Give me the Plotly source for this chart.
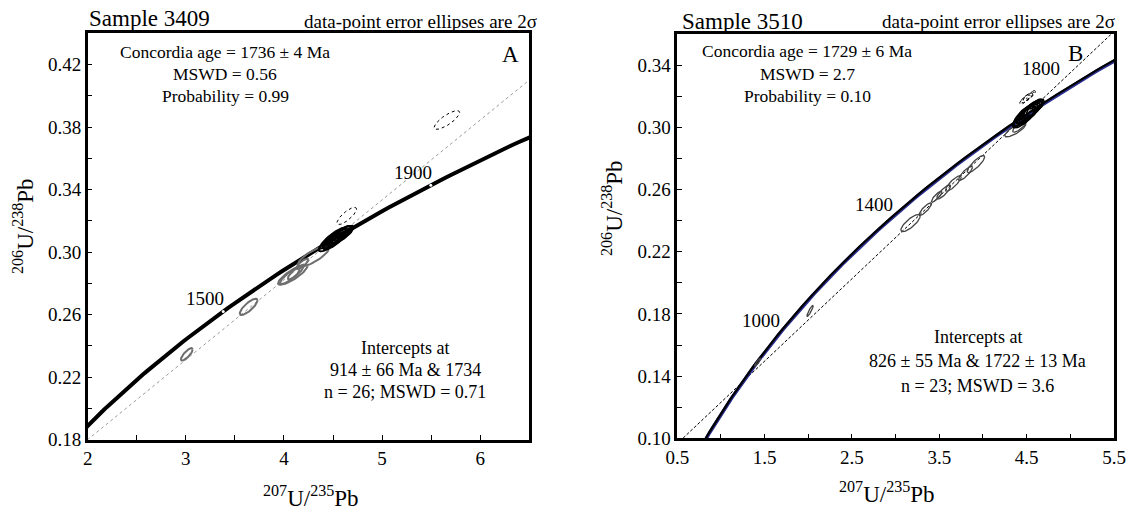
import numpy as np
import plotly.graph_objects as go

# ---------------- data ----------------
# decay constants (per year) for the concordia curve
LAMBDA_238 = 1.55125e-10
LAMBDA_235 = 9.8485e-10
CONCORDIA_AGES_MA = np.arange(500, 2301, 10)

# Sample 3409 (panel A): ellipse centre x, centre y, 2-sigma half widths, error correlation
a_conc_x = [4.47, 4.50, 4.52, 4.55, 4.58, 4.53, 4.49, 4.56, 4.61, 4.51, 4.54, 4.46, 4.59, 4.52]
a_conc_y = [0.3060, 0.3075, 0.3085, 0.3100, 0.3115, 0.3095, 0.3080, 0.3105, 0.3120, 0.3070, 0.3090, 0.3055, 0.3110, 0.3100]
a_conc_ex = [0.12, 0.11, 0.12, 0.13, 0.11, 0.10, 0.12, 0.12, 0.10, 0.11, 0.13, 0.10, 0.12, 0.11]
a_conc_ey = [0.0058, 0.0055, 0.0060, 0.0062, 0.0055, 0.0052, 0.0058, 0.0060, 0.0050, 0.0055, 0.0060, 0.0050, 0.0058, 0.0055]
a_conc_rho = [0.8] * 14

a_disc_x = [4.30, 4.19, 4.09, 4.06, 4.12, 3.64, 3.01]
a_disc_y = [0.2972, 0.2925, 0.2855, 0.2845, 0.2870, 0.2649, 0.2345]
a_disc_ex = [0.16, 0.06, 0.15, 0.10, 0.08, 0.09, 0.06]
a_disc_ey = [0.0066, 0.0032, 0.0065, 0.0050, 0.0045, 0.0052, 0.0040]
a_disc_rho = [0.8, 0.8, 0.85, 0.85, 0.85, 0.8, 0.8]

a_rej_x = [4.64, 5.66]
a_rej_y = [0.3231, 0.3845]
a_rej_ex = [0.10, 0.13]
a_rej_ey = [0.0055, 0.0060]
a_rej_rho = [0.8, 0.8]

a_intercepts_ma = [914, 1734]
a_age_labels = [1500, 1900]

# Sample 3510 (panel B)
b_conc_x = [4.46, 4.49, 4.52, 4.55, 4.58, 4.50, 4.47, 4.54, 4.60, 4.51, 4.56, 4.48, 4.53, 4.57]
b_conc_y = [0.3060, 0.3080, 0.3095, 0.3110, 0.3125, 0.3090, 0.3070, 0.3105, 0.3130, 0.3085, 0.3115, 0.3075, 0.3100, 0.3120]
b_conc_ex = [0.12, 0.11, 0.13, 0.12, 0.11, 0.13, 0.12, 0.11, 0.10, 0.12, 0.11, 0.13, 0.12, 0.11]
b_conc_ey = [0.0062, 0.0058, 0.0065, 0.0062, 0.0058, 0.0065, 0.0062, 0.0058, 0.0052, 0.0062, 0.0058, 0.0065, 0.0062, 0.0058]
b_conc_rho = [0.75] * 14

b_rej_x = [4.48, 4.52, 4.55, 4.50]
b_rej_y = [0.3180, 0.3200, 0.3210, 0.3190]
b_rej_ex = [0.06, 0.06, 0.05, 0.07]
b_rej_ey = [0.0030, 0.0030, 0.0028, 0.0032]
b_rej_rho = [0.8] * 4

b_disc_x = [4.37, 4.42, 3.92, 3.80, 3.66, 3.55, 3.47, 3.34, 3.17, 2.02, 1.42]
b_disc_y = [0.2985, 0.3010, 0.2765, 0.2705, 0.2640, 0.2585, 0.2555, 0.2475, 0.2385, 0.1820, 0.1490]
b_disc_ex = [0.12, 0.08, 0.10, 0.08, 0.09, 0.08, 0.06, 0.07, 0.11, 0.035, 0.035]
b_disc_ey = [0.0045, 0.0040, 0.0055, 0.0045, 0.0050, 0.0045, 0.0035, 0.0040, 0.0055, 0.0035, 0.0025]
b_disc_rho = [0.8, 0.8, 0.85, 0.85, 0.85, 0.85, 0.85, 0.85, 0.8, 0.9, 0.9]

b_intercepts_ma = [826, 1722]
b_age_labels = [1000, 1400, 1800]

FONT = "Liberation Serif, Times New Roman, serif"


def concordia(age_ma):
    t = np.asarray(age_ma, dtype=float) * 1e6
    return np.exp(LAMBDA_235 * t) - 1, np.exp(LAMBDA_238 * t) - 1


def ellipse(cx, cy, ex, ey, rho, n=60):
    t = np.linspace(0, 2 * np.pi, n)
    x = cx + ex * np.cos(t)
    y = cy + ey * (rho * np.cos(t) + np.sqrt(1 - rho ** 2) * np.sin(t))
    return x, y


def ellipse_trace(xs, ys, exs, eys, rhos, color, width, dash, xa, ya):
    px_, py_ = [], []
    for cx, cy, ex, ey, r in zip(xs, ys, exs, eys, rhos):
        x, y = ellipse(cx, cy, ex, ey, r)
        px_ += list(x) + [None]
        py_ += list(y) + [None]
    return go.Scatter(x=px_, y=py_, mode="lines", xaxis=xa, yaxis=ya,
                      line=dict(color=color, width=width, dash=dash),
                      hoverinfo="skip", showlegend=False)


def discordia(ages, xr):
    (x1, x2), (y1, y2) = concordia(ages)
    slope = (y2 - y1) / (x2 - x1)
    xs = np.array(xr)
    return xs, y1 + slope * (xs - x1)


fig = go.Figure()
cx_all, cy_all = concordia(CONCORDIA_AGES_MA)

# ---- panel A ----
dx, dy = discordia(a_intercepts_ma, [1.9, 6.6])
fig.add_trace(go.Scatter(x=dx, y=dy, mode="lines", xaxis="x", yaxis="y",
                         line=dict(color="#9a9a9a", width=1, dash="dot"),
                         hoverinfo="skip", showlegend=False))
fig.add_trace(go.Scatter(x=cx_all, y=cy_all, mode="lines", xaxis="x", yaxis="y",
                         line=dict(color="black", width=4),
                         hoverinfo="skip", showlegend=False))
fig.add_trace(ellipse_trace(a_disc_x, a_disc_y, a_disc_ex, a_disc_ey, a_disc_rho,
                            "#6e6e6e", 2, "solid", "x", "y"))
fig.add_trace(ellipse_trace(a_conc_x, a_conc_y, a_conc_ex, a_conc_ey, a_conc_rho,
                            "black", 1.3, "solid", "x", "y"))
fig.add_trace(ellipse_trace(a_rej_x, a_rej_y, a_rej_ex, a_rej_ey, a_rej_rho,
                            "black", 1, "dot", "x", "y"))
lx, ly = concordia(a_age_labels)
fig.add_trace(go.Scatter(x=lx, y=ly, mode="markers", xaxis="x", yaxis="y",
                         marker=dict(color="white", size=3),
                         hoverinfo="skip", showlegend=False))

# ---- panel B ----
dx, dy = discordia(b_intercepts_ma, [0.4, 5.6])
fig.add_trace(go.Scatter(x=dx, y=dy, mode="lines", xaxis="x2", yaxis="y2",
                         line=dict(color="black", width=1, dash="3px,2px"),
                         hoverinfo="skip", showlegend=False))
fig.add_trace(go.Scatter(x=cx_all, y=cy_all, mode="lines", xaxis="x2", yaxis="y2",
                         line=dict(color="#2b2f8f", width=3.5),
                         hoverinfo="skip", showlegend=False))
fig.add_trace(go.Scatter(x=cx_all, y=cy_all + 0.0006, mode="lines", xaxis="x2", yaxis="y2",
                         line=dict(color="black", width=2.2),
                         hoverinfo="skip", showlegend=False))
fig.add_trace(ellipse_trace(b_disc_x, b_disc_y, b_disc_ex, b_disc_ey, b_disc_rho,
                            "#444444", 1.3, "solid", "x2", "y2"))
fig.add_trace(ellipse_trace(b_conc_x, b_conc_y, b_conc_ex, b_conc_ey, b_conc_rho,
                            "black", 1.5, "solid", "x2", "y2"))
fig.add_trace(ellipse_trace(b_rej_x, b_rej_y, b_rej_ex, b_rej_ey, b_rej_rho,
                            "black", 1, "dot", "x2", "y2"))
lx2, ly2 = concordia(b_age_labels)

W, H = 1130, 513


def px(x):
    return x / W


def py(y):
    return 1 - y / H


axis_common = dict(showline=True, linewidth=2.5, linecolor="black", mirror=True,
                   ticks="inside", ticklen=5, tickwidth=1, tickcolor="black",
                   showgrid=False, zeroline=False, automargin=False,
                   tickfont=dict(family=FONT, size=19, color="black"))

annotations = []


def txt(x, y, text, size, xanchor="center", yanchor="middle", **kw):
    annotations.append(dict(x=px(x), y=py(y), xref="paper", yref="paper", text=text,
                            showarrow=False, xanchor=xanchor, yanchor=yanchor,
                            font=dict(family=FONT, size=size, color="black"), **kw))


# panel A texts
txt(87, 19, "Sample 3409", 23, xanchor="left")
txt(539, 21, "data-point error ellipses are 2σ", 19, xanchor="right")
txt(225, 52, "Concordia age = 1736 ± 4 Ma", 17.5)
txt(225, 74, "MSWD = 0.56", 17.5)
txt(225, 96, "Probability = 0.99", 17.5)
txt(510, 55, "A", 23)
txt(405, 348, "Intercepts at", 18)
txt(405, 370, "914 ± 66 Ma & 1734", 18)
txt(405, 392, "n = 26; MSWD = 0.71", 18)
txt(23, 226, "<sup>206</sup>U/<sup>238</sup>Pb", 23, textangle=-90)
txt(311, 496, "<sup>207</sup>U/<sup>235</sup>Pb", 23)

# panel B texts
txt(680, 21, "Sample 3510", 23, xanchor="left")
txt(1117, 21, "data-point error ellipses are 2σ", 19, xanchor="right")
txt(807, 51, "Concordia age = 1729 ± 6 Ma", 17.5)
txt(807, 74, "MSWD = 2.7", 17.5)
txt(807, 96, "Probability = 0.10", 17.5)
txt(1075, 53, "B", 23)
txt(978, 337, "Intercepts at", 18)
txt(978, 361, "826 ± 55 Ma & 1722 ± 13 Ma", 18)
txt(978, 386, "n = 23; MSWD = 3.6", 18)
txt(612, 208, "<sup>206</sup>U/<sup>238</sup>Pb", 23, textangle=-90)
txt(887, 492, "<sup>207</sup>U/<sup>235</sup>Pb", 23)

# concordia age labels
for age, x, y in zip(a_age_labels, lx, ly):
    annotations.append(dict(x=x, y=y, xref="x", yref="y", text=str(age), showarrow=False,
                            xanchor="right", yanchor="bottom", xshift=3,
                            font=dict(family=FONT, size=19, color="black")))
for age, x, y in zip(b_age_labels, lx2, ly2):
    annotations.append(dict(x=x, y=y, xref="x2", yref="y2", text=str(age), showarrow=False,
                            xanchor="right", yanchor="bottom", xshift=2,
                            yshift=12 if age == 1800 else 0,
                            font=dict(family=FONT, size=19, color="black")))

fig.update_layout(
    width=W, height=H,
    margin=dict(l=0, r=0, t=0, b=0, autoexpand=False),
    paper_bgcolor="white", plot_bgcolor="white",
    showlegend=False,
    xaxis=dict(domain=[px(87.7), px(529.3)], range=[2, 6.5], anchor="y",
               tickvals=[2, 3, 4, 5, 6],
               minor=dict(tickvals=[2.5, 3.5, 4.5, 5.5], ticks="inside", ticklen=5,
                          tickcolor="black"),
               **axis_common),
    yaxis=dict(domain=[py(439.5), py(33.3)], range=[0.18, 0.44], anchor="x",
               tickvals=[0.18, 0.22, 0.26, 0.30, 0.34, 0.38, 0.42], tickformat=".2f",
               minor=dict(tickvals=[0.20, 0.24, 0.28, 0.32, 0.36, 0.40], ticks="inside",
                          ticklen=5, tickcolor="black"),
               **axis_common),
    xaxis2=dict(domain=[px(677.3), px(1114)], range=[0.5, 5.5], anchor="y2",
                tickvals=[0.5, 1.5, 2.5, 3.5, 4.5, 5.5], tickformat=".1f",
                minor=dict(tickvals=[1, 2, 3, 4, 5], ticks="inside", ticklen=5,
                           tickcolor="black"),
                **axis_common),
    yaxis2=dict(domain=[py(438.3), py(34.3)], range=[0.10, 0.36], anchor="x2",
                tickvals=[0.10, 0.14, 0.18, 0.22, 0.26, 0.30, 0.34], tickformat=".2f",
                minor=dict(tickvals=[0.12, 0.16, 0.20, 0.24, 0.28, 0.32], ticks="inside",
                           ticklen=5, tickcolor="black"),
                **axis_common),
    annotations=annotations,
)

fig.write_html("out.html")
